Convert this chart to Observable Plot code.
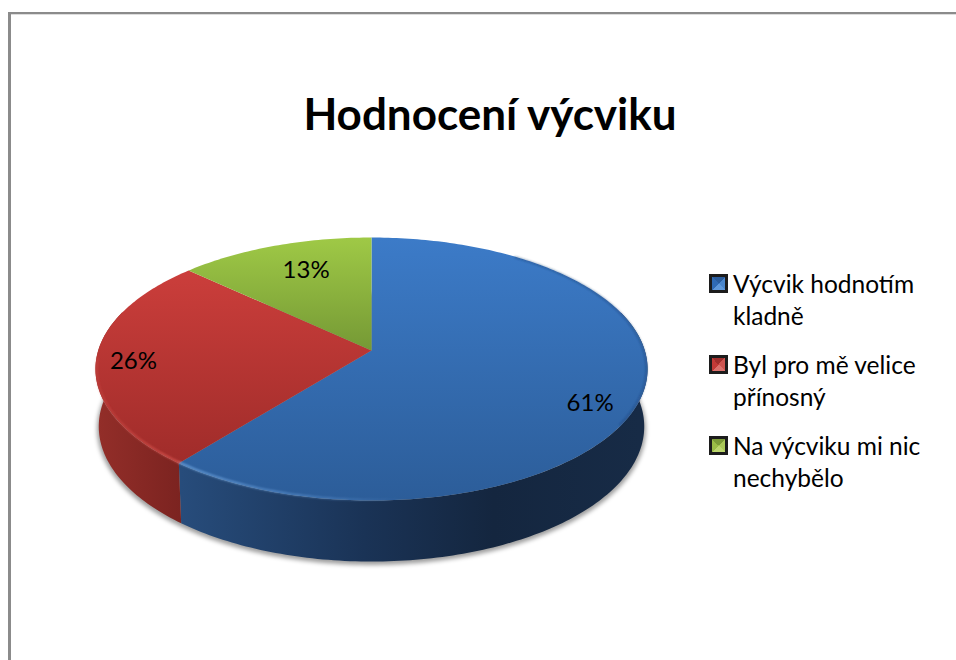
<!DOCTYPE html>
<html lang="cs">
<head>
<meta charset="utf-8">
<script src="https://cdn.jsdelivr.net/npm/d3@7"></script>
<script src="https://cdn.jsdelivr.net/npm/@observablehq/plot@0.6"></script>
<style>
  html, body { margin: 0; padding: 0; background: #fff; }
  #page { position: relative; width: 956px; height: 660px; overflow: hidden; font-family: Lato, sans-serif; color: #000; }
  #frame { position: absolute; left: 8px; top: 12px; right: -5px; bottom: -5px; border-left: 3px solid #8b8b8b; border-top: 2px solid #8b8b8b; box-shadow: inset 0 1px 0 #ddd; }
  #chart { position: absolute; left: 0; top: 0; }
  #chart svg { display: block; background: transparent; }
  #title { position: absolute; left: 190px; width: 600px; top: 86px; text-align: center; font-size: 44px; line-height: 54px; font-weight: 700; }
  .item { position: absolute; left: 709px; display: flex; }
  .swatch { box-sizing: border-box; width: 19px; height: 19px; margin-top: 4px; border: 3px solid #1c1c1c; flex: none; }
  .label { margin-left: 5px; margin-top: -2px; font-size: 24.5px; line-height: 32px; white-space: nowrap; }
</style>
</head>
<body>
<div id="page">
  <div id="frame"></div>
  <div id="chart"></div>
  <div id="title"></div>
  <div id="legend"></div>
</div>
<script>
const chartTitle = "Hodnocení výcviku";
const categories = ["Výcvik hodnotím\nkladně", "Byl pro mě velice\npřínosný", "Na výcviku mi nic\nnechybělo"];
const shares = [60.8, 26.1, 13.1];
const percentLabels = ["61%", "26%", "13%"];
const colorIds = ["blue", "red", "green"];
const swatchColors = [
  ["#5f98da", "#2f6ab4", "#2a5c9c", "#4a86cc"],
  ["#d9706c", "#c23a37", "#a02e2c", "#cc5450"],
  ["#bcd66e", "#9bbd47", "#7c9c38", "#aac858"]
];
// where each percentage label sits: radius, and position along its slice
const labelRadius = [0.851, 0.865, 0.729];
const labelAlong = [0.536, 0.486, 0.553];

// perspective of the tilted disc
const tilt = 0.1407;
const TAU = Math.PI * 2;
const project = (turn, r = 1) => {
  const u = r * Math.sin(turn * TAU), v = -r * Math.cos(turn * TAU);
  const w = 1 - tilt * v;
  return {X: u / w, Y: v / w};
};
// floor of the disc: same outline, slightly rescaled and pushed down
const ellipseMid = 0.1435;
const lower = (p, grow = 0, drop = 0) => ({
  X: p.X * (0.988 + grow),
  Y: (p.Y - ellipseMid) * (1.027 + grow) + ellipseMid + 0.446 + drop
});
const arc = (t0, t1) => {
  const n = Math.max(2, Math.ceil(Math.abs(t1 - t0) * 360));
  return d3.range(n + 1).map(i => t0 + (t1 - t0) * i / n);
};

const total = d3.sum(shares);
const ends = d3.cumsum(shares).map(c => c / total);
const starts = [0, ...ends.slice(0, -1)];

const topSlices = shares.map((_, i) => [{X: 0, Y: 0}, ...arc(starts[i], ends[i]).map(t => project(t))]);
const wall = (t0, t1) => [...arc(t0, t1).map(t => project(t)), ...arc(t1, t0).map(t => lower(project(t)))];
const outline = arc(0, 1).map(t => lower(project(t), 0.006, 0.02));
const labels = shares.map((s, i) => ({
  ...project(starts[i] + (ends[i] - starts[i]) * labelAlong[i], labelRadius[i]),
  text: percentLabels[i]
}));

const defs = () => {
  const d = d3.create("svg:defs");
  const grad = (id, vertical, x0, x1, stops) => {
    const g = d.append("linearGradient").attr("id", id).attr("gradientUnits", "userSpaceOnUse");
    if (vertical) g.attr("x1", 0).attr("x2", 0).attr("y1", x0).attr("y2", x1);
    else g.attr("y1", 0).attr("y2", 0).attr("x1", x0).attr("x2", x1);
    stops.forEach(([o, c, a]) => g.append("stop").attr("offset", o).attr("stop-color", c).attr("stop-opacity", a ?? 1));
  };
  grad("blue", true, 237, 500, [[0, "#3c7bc8"], [1, "#2c5d99"]]);
  grad("red", true, 270, 462, [[0, "#cb3e3b"], [1, "#a02c2a"]]);
  grad("green", true, 237, 350, [[0, "#9fc946"], [1, "#759935"]]);
  grad("wallBlue", false, 180, 640, [[0, "#274c7b"], [0.4, "#1a3356"], [0.68, "#14263f"], [1, "#172b46"]]);
  grad("wallRed", false, 96, 182, [[0, "#932e29"], [1, "#7b2320"]]);
  grad("rimBlue", false, 180, 400, [[0, "#77aee8", 0.95], [0.7, "#6aa0de", 0.5], [1, "#6aa0de", 0]]);
  grad("rimRed", false, 96, 182, [[0, "#d8524c", 0.4], [1, "#e6605a", 0.95]]);
  const f = d.append("filter").attr("id", "soft").attr("x", "-5%").attr("y", "-5%").attr("width", "110%").attr("height", "110%");
  f.append("feGaussianBlur").attr("stdDeviation", 2);
  const e = d.append("filter").attr("id", "edge").attr("x", "-5%").attr("y", "-5%").attr("width", "110%").attr("height", "110%");
  e.append("feGaussianBlur").attr("stdDeviation", 0.8);
  return d.node();
};
const withFilter = id => (index, scales, values, dim, ctx, next) => {
  const g = next(index, scales, values, dim, ctx);
  g.setAttribute("filter", `url(#${id})`);
  return g;
};

const shape = (pts, fill, extra = {}) => Plot.line(pts, {x: "X", y: "Y", fill, stroke: "none", ...extra});
const rim = (t0, t1, stroke, strokeWidth, id, strokeOpacity = 1) => Plot.line(arc(t0, t1).map(t => project(t, 0.996)), {
  x: "X", y: "Y", stroke, strokeWidth, strokeOpacity, fill: "none", render: withFilter(id)
});

const chart = Plot.plot({
  width: 956,
  height: 660,
  margin: 0,
  x: {axis: null, domain: [-1, 1], range: [97.7, 644.3]},
  y: {axis: null, domain: [-1, 1], range: [221.1, 478.9]},
  marks: [
    defs,
    shape(outline, "#000", {fillOpacity: 0.38, render: withFilter("soft")}),
    shape(wall(0.2, ends[0]), "url(#wallBlue)"),
    shape(wall(ends[0], 0.8), "url(#wallRed)"),
    ...topSlices.map((pts, i) => shape(pts, `url(#${colorIds[i]})`)),
    rim(0.1, 0.34, "#1c3a66", 1.4, "edge", 0.55),
    rim(ends[0] - 0.15, ends[0], "url(#rimBlue)", 1.6, "edge"),
    rim(ends[0], 0.74, "url(#rimRed)", 1.6, "edge"),
    Plot.text(labels, {x: "X", y: "Y", text: "text", fill: "#000", fontSize: 24, fontFamily: "Lato, sans-serif", textAnchor: "middle"})
  ]
});
document.getElementById("chart").append(chart);

document.getElementById("title").textContent = chartTitle;
const legend = d3.select("#legend");
categories.forEach((c, i) => {
  const item = legend.append("div").attr("class", "item").style("top", `${270 + i * 81}px`);
  const [a, b, e, f] = swatchColors[i];
  item.append("div").attr("class", "swatch")
    .style("background", `conic-gradient(from 315deg, ${e} 0 25%, ${f} 0 50%, ${a} 0 75%, ${b} 0)`);
  const lines = c.split("\n");
  item.append("div").attr("class", "label").html(lines.join("<br>"));
});
</script>
</body>
</html>
